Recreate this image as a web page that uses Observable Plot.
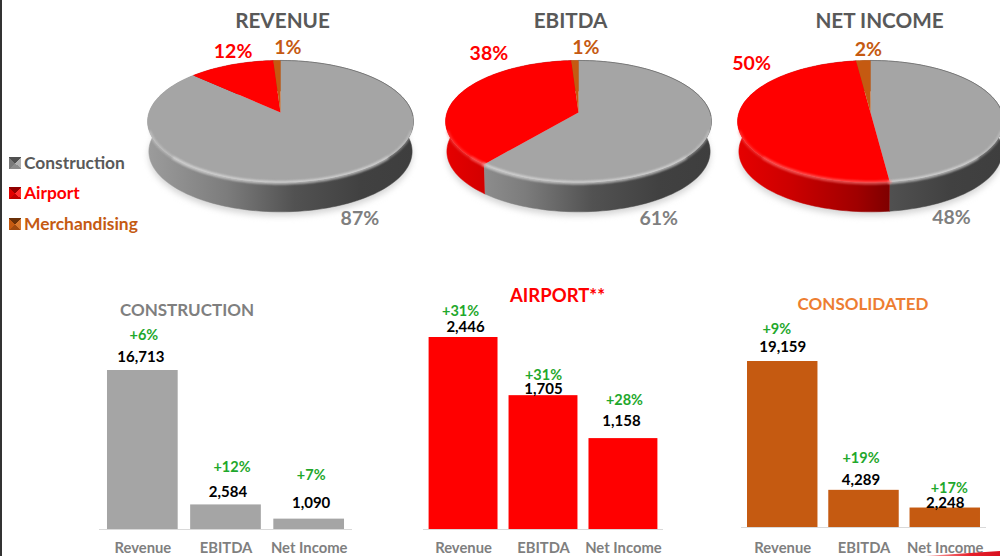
<!DOCTYPE html>
<html>
<head>
<meta charset="utf-8">
<script src="https://cdn.jsdelivr.net/npm/d3@7"></script>
<script src="https://cdn.jsdelivr.net/npm/@observablehq/plot@0.6"></script>
<style>
html,body{margin:0;padding:0;background:#fff;}
#stage{position:relative;width:1000px;height:556px;overflow:hidden;background:#fff;font-family:Lato,sans-serif;}
#stage svg{position:absolute;background:transparent;font-family:Lato,sans-serif;}
.edge{position:absolute;left:0;top:0;width:2px;height:556px;background:#333;}
.lg{position:absolute;left:9px;display:flex;align-items:center;font-weight:700;font-size:17.4px;line-height:20px;height:20px;}
.lg i{display:block;width:12px;height:12px;margin-right:3px;}
.swoosh{position:absolute;left:925px;top:551px;width:75px;height:5px;clip-path:polygon(0 100%,100% 0,100% 100%);background:linear-gradient(90deg,#f7b0b0,#e8202a 60%,#d81020);}
</style>
</head>
<body>
<div id="stage"><div class="edge"></div></div>
<script>
// ---- data ----
const segments = ["Construction", "Airport", "Merchandising"];
const pieTitles = ["REVENUE", "EBITDA", "NET INCOME"];
const revenueShares = [87, 12, 1];
const ebitdaShares = [61, 38, 1];
const netIncomeShares = [48, 50, 2];
const metrics = ["Revenue", "EBITDA", "Net Income"];
const constructionValues = [16713, 2584, 1090];
const constructionGrowth = ["+6%", "+12%", "+7%"];
const airportValues = [2446, 1705, 1158];
const airportGrowth = ["+31%", "+31%", "+28%"];
const consolidatedValues = [19159, 4289, 2248];
const consolidatedGrowth = ["+9%", "+19%", "+17%"];

// ---- styling ----
const GRAY = "#a5a5a5", RED = "#ff0000", ORANGE = "#c55a11", GREEN = "#1fa82c";
const segColor = {Construction: GRAY, Airport: RED, Merchandising: ORANGE};
const segText = {Construction: "#7f7f7f", Airport: RED, Merchandising: ORANGE};
const rimLight = {Construction: "#e4e4e4", Airport: "#ff7070", Merchandising: "#e8a070"};
const stage = document.getElementById("stage");

function makeDefs(prefix) {
  return () => {
    const g = document.createElementNS("http://www.w3.org/2000/svg", "g");
    const stops = (id, list) => `<linearGradient id="${prefix}${id}" gradientUnits="userSpaceOnUse" x1="7" x2="273" y1="0" y2="0">` +
      list.map(([o, c]) => `<stop offset="${o}" stop-color="${c}"/>`).join("") + `</linearGradient>`;
    g.innerHTML = `<defs>` +
      stops("Construction", [[0, "#9c9c9c"], [0.3, "#7c7c7c"], [0.55, "#525252"], [0.8, "#414141"], [1, "#3e3e3e"]]) +
      stops("Airport", [[0, "#e60000"], [0.2, "#cc0000"], [0.45, "#a00000"], [0.58, "#7c0000"], [1, "#600000"]]) +
      stops("Merchandising", [[0, "#c55a11"], [1, "#6a3008"]]) + `</defs>`;
    return g;
  };
}

// ---- 3D pie geometry: a circle in perspective ----
const R = 131.5, tiltB = 59.7, persp = 0.1475, depth = 30;
function rimPoint(share, drop = 0, k = 1) {
  const t = share / 100 * 2 * Math.PI;
  const u = Math.sin(t), v = -Math.cos(t), d = 1 - persp * v;
  return {px: k * R * u / d, py: tiltB * k * v / d + drop};
}
function arc(from, to, drop = 0, k = 1) {
  const out = [];
  const n = Math.max(2, Math.ceil((to - from) * 2));
  for (let i = 0; i <= n; ++i) out.push(rimPoint(from + (to - from) * i / n, drop, k));
  return out;
}
// label nudges from each slice's rim point, in pixels
const labelNudges = [
  [[19, 43], [2, -13], [11, -13]],
  [[-50, 85], [30, -41], [11, -13]],
  [[-49, 109], [14, -56], [5, -11]]
];
const titleShift = [2, -8, 14];
const pieLeft = [140, 438, 730];
const pieWidth = [280, 280, 270];

[revenueShares, ebitdaShares, netIncomeShares].forEach((shares, p) => {
  let cum = 0;
  const slices = shares.map((s, i) => {
    const r = {seg: segments[i], value: s, from: cum, to: cum + s};
    cum += s;
    return r;
  });
  const prefix = "g" + p;
  const labels = slices.map((s, i) => {
    const b = rimPoint((s.from + s.to) / 2);
    return {label: s.value + "%", seg: s.seg, px: b.px + labelNudges[p][i][0], py: b.py + labelNudges[p][i][1]};
  });
  const marks = [makeDefs(prefix)];
  // soft ground shadow
  marks.push(Plot.line(arc(0, 100, depth + 4, 0.99), {
    x: "px", y: "py", fill: "#d4d4d4", stroke: "none", imageFilter: "blur(3px)"
  }));
  // extruded side
  slices.forEach(s => {
    const side = [...arc(s.from, s.to), ...arc(s.from, s.to, depth, 0.99).reverse()];
    marks.push(Plot.line(side, {x: "px", y: "py", fill: `url(#${prefix}${s.seg})`, stroke: `url(#${prefix}${s.seg})`, strokeWidth: 0.5}));
  });
  // top face
  slices.forEach(s => {
    const face = [{px: 0, py: 0}, ...arc(s.from, s.to)];
    marks.push(Plot.line(face, {x: "px", y: "py", fill: segColor[s.seg], stroke: "none"}));
  });
  // bevel highlight straddling the front of the rim, fading to the sides
  slices.forEach(s => {
    [[30, 70, 0.4, 3], [37, 63, 0.45, 3.5]].forEach(([a, b, op, w]) => {
      const from = Math.max(s.from, a), to = Math.min(s.to, b);
      if (to > from) marks.push(Plot.line(arc(from, to, 0.3, 0.998), {
        x: "px", y: "py", stroke: rimLight[s.seg], strokeOpacity: op, strokeWidth: w, fill: "none", imageFilter: "blur(1.2px)"
      }));
    });
  });
  // dark fringe on the far right of the grey face
  const grey = slices[0];
  marks.push(Plot.line(arc(0, Math.min(grey.to, 26)), {
    x: "px", y: "py", stroke: "#6e6e6e", strokeOpacity: 0.6, strokeWidth: 1, fill: "none", imageFilter: "blur(0.6px)"
  }));
  marks.push(Plot.text([pieTitles[p]], {
    frameAnchor: "top", dx: titleShift[p], dy: 21, lineAnchor: "middle",
    fontSize: 20.7, fontWeight: 700, fill: "#595959", fontFamily: "Lato"
  }));
  marks.push(Plot.text(labels, {
    x: "px", y: "py", text: "label", fill: d => segText[d.seg], fontSize: 19.5, fontWeight: 700,
    fontFamily: "Lato", lineAnchor: "middle", textAnchor: "middle"
  }));
  const W = pieWidth[p];
  const svg = Plot.plot({
    width: W, height: 240, margin: 0,
    x: {domain: [-140, W - 140], range: [0, W], axis: null},
    y: {domain: [-112, 128], range: [0, 240], axis: null},
    marks
  });
  svg.style.left = pieLeft[p] + "px";
  svg.style.top = "0px";
  svg.style.overflow = "visible";
  stage.appendChild(svg);
});

// ---- legend ----
const legendY = [153, 183, 214];
const legendText = {Construction: "#595959", Airport: RED, Merchandising: ORANGE};
const swatch = {
  Construction: "conic-gradient(from 45deg,#b0b0b0 0 25%,#8c8c8c 25% 50%,#7a7a7a 50% 75%,#505050 75%)",
  Airport: "conic-gradient(from 45deg,#ff3030 0 25%,#c00000 25% 50%,#e00000 50% 75%,#900000 75%)",
  Merchandising: "conic-gradient(from 45deg,#d87a30 0 25%,#a04a10 25% 50%,#c55a11 50% 75%,#6a3008 75%)"
};
segments.forEach((s, i) => {
  const d = document.createElement("div");
  d.className = "lg";
  d.style.top = legendY[i] + "px";
  d.style.color = legendText[s];
  const sw = document.createElement("i");
  sw.style.background = swatch[s];
  d.appendChild(sw);
  d.appendChild(document.createTextNode(s));
  stage.appendChild(d);
});

// ---- bar panels ----
const panels = [
  {title: "CONSTRUCTION", titleColor: "#7f7f7f", titleDx: -39, titleY: 15, titleSize: 17, color: GRAY,
   values: constructionValues, growth: constructionGrowth, padIn: 0.15, padOut: 0.096,
   left: 99, width: 253, baseline: 234, top: 75, pageTop: 295,
   valueNudge: [[-2, -13], [2, -13], [2, -16]], growthNudge: [[1, -35], [6, -38], [2, -44]]},
  {title: "AIRPORT**", titleColor: RED, titleDx: 14, titleY: 1, titleSize: 18.5, color: RED,
   values: airportValues, growth: airportGrowth, padIn: 0.138, padOut: 0.07,
   left: 423, width: 240, baseline: 234, top: 42, pageTop: 295,
   valueNudge: [[2, -10], [0, -6], [-2, -17]], growthNudge: [[-3, -26], [0, -20], [1, -38]]},
  {title: "CONSOLIDATED", titleColor: "#ed7d31", titleDx: -1, titleY: 9, titleSize: 17, color: ORANGE,
   values: consolidatedValues, growth: consolidatedGrowth, padIn: 0.133, padOut: 0.074,
   left: 741, width: 245, baseline: 232, top: 66, pageTop: 295,
   valueNudge: [[0, -14], [-3, -10], [0, -5]], growthNudge: [[-6, -32], [-3, -32], [4, -20]]}
];

panels.forEach(p => {
  const rows = metrics.map((m, i) => ({metric: m, value: p.values[i], growth: p.growth[i]}));
  const H = 261;
  const fmt = d3.format(",");
  const textMarks = [];
  rows.forEach((r, i) => {
    textMarks.push(Plot.text([r], {
      x: "metric", y: "value", text: d => fmt(d.value), fill: "#000", fontSize: 15, fontWeight: 700, fontFamily: "Lato",
      lineAnchor: "middle", dx: p.valueNudge[i][0], dy: p.valueNudge[i][1]
    }));
    textMarks.push(Plot.text([r], {
      x: "metric", y: "value", text: "growth", fill: GREEN, fontSize: 14.5, fontWeight: 700, fontFamily: "Lato",
      lineAnchor: "middle", dx: p.growthNudge[i][0], dy: p.growthNudge[i][1]
    }));
  });
  const svg = Plot.plot({
    width: p.width, height: H, marginLeft: 0, marginRight: 0, marginTop: 0, marginBottom: H - p.baseline,
    x: {domain: metrics, paddingInner: p.padIn, paddingOuter: p.padOut, round: false, label: null},
    y: {domain: [0, d3.max(p.values)], range: [p.baseline, p.top], axis: null},
    marks: [
      Plot.barY(rows, {x: "metric", y: "value", fill: p.color}),
      Plot.ruleY([0], {stroke: "#d9d9d9", strokeWidth: 1}),
      Plot.axisX({tickSize: 0, tickPadding: p.baseline === 232 ? 15 : 13, label: null, fontSize: 14.8, fontWeight: 700, fill: "#7f7f7f", fontFamily: "Lato"}),
      ...textMarks,
      Plot.text([p.title], {
        frameAnchor: "top", dx: p.titleDx, dy: p.titleY, lineAnchor: "middle",
        fontSize: p.titleSize, fontWeight: 700, fill: p.titleColor, fontFamily: "Lato"
      })
    ]
  });
  svg.style.left = p.left + "px";
  svg.style.top = p.pageTop + "px";
  svg.style.overflow = "visible";
  stage.appendChild(svg);
});

const sw = document.createElement("div");
sw.className = "swoosh";
stage.appendChild(sw);
</script>
</body>
</html>
